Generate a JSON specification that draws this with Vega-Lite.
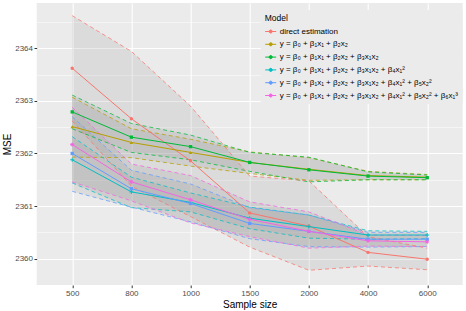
{
  "$schema": "https://vega.github.io/schema/vega-lite/v6.json",
  "autosize": {"type": "none"},
  "width": 426,
  "height": 282,
  "padding": {"left": 36.7, "top": 3, "right": 3.3, "bottom": 26},
  "config": {
    "font": "Liberation Sans",
    "view": {"fill": "#EBEBEB", "stroke": null}
  },
  "data": {
    "values": [
      {"model": "direct estimation", "n": 500, "mean": 2363.62, "lower": 2362.62, "upper": 2364.62},
      {"model": "direct estimation", "n": 800, "mean": 2362.66, "lower": 2361.38, "upper": 2363.94},
      {"model": "direct estimation", "n": 1000, "mean": 2361.86, "lower": 2360.8, "upper": 2362.9},
      {"model": "direct estimation", "n": 1500, "mean": 2360.87, "lower": 2360.22, "upper": 2361.57},
      {"model": "direct estimation", "n": 2000, "mean": 2360.62, "lower": 2359.78, "upper": 2361.48},
      {"model": "direct estimation", "n": 4000, "mean": 2360.12, "lower": 2359.86, "upper": 2360.42},
      {"model": "direct estimation", "n": 6000, "mean": 2359.99, "lower": 2359.79, "upper": 2360.2},
      {"model": "y = β₀ + β₁x₁ + β₂x₂", "n": 500, "mean": 2362.51, "lower": 2361.93, "upper": 2363.07},
      {"model": "y = β₀ + β₁x₁ + β₂x₂", "n": 800, "mean": 2362.21, "lower": 2361.92, "upper": 2362.47},
      {"model": "y = β₀ + β₁x₁ + β₂x₂", "n": 1000, "mean": 2362.02, "lower": 2361.76, "upper": 2362.27},
      {"model": "y = β₀ + β₁x₁ + β₂x₂", "n": 1500, "mean": 2361.83, "lower": 2361.62, "upper": 2362.03},
      {"model": "y = β₀ + β₁x₁ + β₂x₂", "n": 2000, "mean": 2361.7, "lower": 2361.49, "upper": 2361.92},
      {"model": "y = β₀ + β₁x₁ + β₂x₂", "n": 4000, "mean": 2361.58, "lower": 2361.5, "upper": 2361.66},
      {"model": "y = β₀ + β₁x₁ + β₂x₂", "n": 6000, "mean": 2361.55, "lower": 2361.5, "upper": 2361.6},
      {"model": "y = β₀ + β₁x₁ + β₂x₂ + β₃x₁x₂", "n": 500, "mean": 2362.79, "lower": 2362.47, "upper": 2363.11},
      {"model": "y = β₀ + β₁x₁ + β₂x₂ + β₃x₁x₂", "n": 800, "mean": 2362.31, "lower": 2362.02, "upper": 2362.57},
      {"model": "y = β₀ + β₁x₁ + β₂x₂ + β₃x₁x₂", "n": 1000, "mean": 2362.13, "lower": 2361.88, "upper": 2362.35},
      {"model": "y = β₀ + β₁x₁ + β₂x₂ + β₃x₁x₂", "n": 1500, "mean": 2361.83, "lower": 2361.66, "upper": 2362.02},
      {"model": "y = β₀ + β₁x₁ + β₂x₂ + β₃x₁x₂", "n": 2000, "mean": 2361.69, "lower": 2361.46, "upper": 2361.93},
      {"model": "y = β₀ + β₁x₁ + β₂x₂ + β₃x₁x₂", "n": 4000, "mean": 2361.57, "lower": 2361.5, "upper": 2361.65},
      {"model": "y = β₀ + β₁x₁ + β₂x₂ + β₃x₁x₂", "n": 6000, "mean": 2361.54, "lower": 2361.5, "upper": 2361.59},
      {"model": "y = β₀ + β₁x₁ + β₂x₂ + β₃x₁x₂ + β₄x₁²", "n": 500, "mean": 2361.88, "lower": 2361.44, "upper": 2362.32},
      {"model": "y = β₀ + β₁x₁ + β₂x₂ + β₃x₁x₂ + β₄x₁²", "n": 800, "mean": 2361.27, "lower": 2360.97, "upper": 2361.55},
      {"model": "y = β₀ + β₁x₁ + β₂x₂ + β₃x₁x₂ + β₄x₁²", "n": 1000, "mean": 2361.07, "lower": 2360.89, "upper": 2361.25},
      {"model": "y = β₀ + β₁x₁ + β₂x₂ + β₃x₁x₂ + β₄x₁²", "n": 1500, "mean": 2360.77, "lower": 2360.57, "upper": 2360.98},
      {"model": "y = β₀ + β₁x₁ + β₂x₂ + β₃x₁x₂ + β₄x₁²", "n": 2000, "mean": 2360.61, "lower": 2360.39, "upper": 2360.83},
      {"model": "y = β₀ + β₁x₁ + β₂x₂ + β₃x₁x₂ + β₄x₁²", "n": 4000, "mean": 2360.45, "lower": 2360.37, "upper": 2360.53},
      {"model": "y = β₀ + β₁x₁ + β₂x₂ + β₃x₁x₂ + β₄x₁²", "n": 6000, "mean": 2360.45, "lower": 2360.38, "upper": 2360.52},
      {"model": "y = β₀ + β₁x₁ + β₂x₂ + β₃x₁x₂ + β₄x₁² + β₅x₂²", "n": 500, "mean": 2362.0, "lower": 2361.28, "upper": 2362.7},
      {"model": "y = β₀ + β₁x₁ + β₂x₂ + β₃x₁x₂ + β₄x₁² + β₅x₂²", "n": 800, "mean": 2361.33, "lower": 2360.98, "upper": 2361.68},
      {"model": "y = β₀ + β₁x₁ + β₂x₂ + β₃x₁x₂ + β₄x₁² + β₅x₂²", "n": 1000, "mean": 2361.05, "lower": 2360.7, "upper": 2361.42},
      {"model": "y = β₀ + β₁x₁ + β₂x₂ + β₃x₁x₂ + β₄x₁² + β₅x₂²", "n": 1500, "mean": 2360.67, "lower": 2360.38, "upper": 2360.97},
      {"model": "y = β₀ + β₁x₁ + β₂x₂ + β₃x₁x₂ + β₄x₁² + β₅x₂²", "n": 2000, "mean": 2360.52, "lower": 2360.23, "upper": 2360.83},
      {"model": "y = β₀ + β₁x₁ + β₂x₂ + β₃x₁x₂ + β₄x₁² + β₅x₂²", "n": 4000, "mean": 2360.37, "lower": 2360.22, "upper": 2360.5},
      {"model": "y = β₀ + β₁x₁ + β₂x₂ + β₃x₁x₂ + β₄x₁² + β₅x₂²", "n": 6000, "mean": 2360.37, "lower": 2360.23, "upper": 2360.5},
      {"model": "y = β₀ + β₁x₁ + β₂x₂ + β₃x₁x₂ + β₄x₁² + β₅x₂² + β₆x₁³", "n": 500, "mean": 2362.17, "lower": 2361.46, "upper": 2362.88},
      {"model": "y = β₀ + β₁x₁ + β₂x₂ + β₃x₁x₂ + β₄x₁² + β₅x₂² + β₆x₁³", "n": 800, "mean": 2361.46, "lower": 2361.1, "upper": 2361.8},
      {"model": "y = β₀ + β₁x₁ + β₂x₂ + β₃x₁x₂ + β₄x₁² + β₅x₂² + β₆x₁³", "n": 1000, "mean": 2361.12, "lower": 2360.68, "upper": 2361.58},
      {"model": "y = β₀ + β₁x₁ + β₂x₂ + β₃x₁x₂ + β₄x₁² + β₅x₂² + β₆x₁³", "n": 1500, "mean": 2360.75, "lower": 2360.42, "upper": 2361.08},
      {"model": "y = β₀ + β₁x₁ + β₂x₂ + β₃x₁x₂ + β₄x₁² + β₅x₂² + β₆x₁³", "n": 2000, "mean": 2360.52, "lower": 2360.2, "upper": 2360.89},
      {"model": "y = β₀ + β₁x₁ + β₂x₂ + β₃x₁x₂ + β₄x₁² + β₅x₂² + β₆x₁³", "n": 4000, "mean": 2360.34, "lower": 2360.24, "upper": 2360.45},
      {"model": "y = β₀ + β₁x₁ + β₂x₂ + β₃x₁x₂ + β₄x₁² + β₅x₂² + β₆x₁³", "n": 6000, "mean": 2360.32, "lower": 2360.23, "upper": 2360.44}
    ]
  },
  "encoding": {
    "x": {
      "field": "n", "type": "ordinal",
      "scale": {"type": "point", "padding": 0.6},
      "axis": {
        "title": "Sample size", "titleFontSize": 10, "titleFontWeight": "normal", "titleColor": "#000000", "titlePadding": 2,
        "labelAngle": 0, "labelFontSize": 8, "labelColor": "#4D4D4D", "labelPadding": 1.5,
        "tickSize": 2.7, "tickColor": "#333333", "domain": false,
        "grid": true, "gridColor": "#FFFFFF", "gridWidth": 1.07
      }
    }
  },
  "layer": [
    {
      "mark": {"type": "area", "color": "#999999", "opacity": 0.2},
      "encoding": {
        "y": {
          "field": "lower", "type": "quantitative",
          "scale": {"domain": [2359.5, 2364.86], "nice": false, "zero": false},
          "axis": {
            "orient": "right", "title": null, "values": [2359.5, 2360.5, 2361.5, 2362.5, 2363.5, 2364.5],
            "labels": false, "ticks": false, "domain": false,
            "grid": true, "gridColor": "#FFFFFF", "gridWidth": 0.53
          }
        },
        "y2": {"field": "upper"},
        "detail": {"field": "model"}
      }
    },
    {
      "encoding": {
        "color": {
          "field": "model", "type": "nominal",
          "scale": {
            "domain": ["direct estimation", "y = β₀ + β₁x₁ + β₂x₂", "y = β₀ + β₁x₁ + β₂x₂ + β₃x₁x₂", "y = β₀ + β₁x₁ + β₂x₂ + β₃x₁x₂ + β₄x₁²", "y = β₀ + β₁x₁ + β₂x₂ + β₃x₁x₂ + β₄x₁² + β₅x₂²", "y = β₀ + β₁x₁ + β₂x₂ + β₃x₁x₂ + β₄x₁² + β₅x₂² + β₆x₁³"],
            "range": ["#F8766D", "#B79F00", "#00BA38", "#00BFC4", "#619CFF", "#F564E3"]
          },
          "legend": {
            "orient": "none", "legendX": 224, "legendY": 7,
            "title": "Model", "titleFontSize": 8.5, "titleFontWeight": "normal", "titleColor": "#000000", "titlePadding": 3,
            "labelFontSize": 8, "labelColor": "#000000", "labelLimit": 400, "labelOffset": 3,
            "symbolType": "M-1,0H1M0.28,0A0.28,0.28,0,1,1,-0.28,0A0.28,0.28,0,1,1,0.28,0",
            "symbolSize": 121, "symbolStrokeWidth": 1, "rowPadding": 2.8,
            "fillColor": "#EBEBEB", "padding": 4,
            "encode": {"symbols": {"update": {
              "shape": {"value": "M-1,0H1M0.28,0A0.28,0.28,0,1,1,-0.28,0A0.28,0.28,0,1,1,0.28,0"},
              "size": {"value": 121},
              "strokeWidth": {"value": 1},
              "opacity": {"value": 1},
              "fill": {"scale": "color", "field": "value"},
              "stroke": {"scale": "color", "field": "value"}
            }}}
          }
        }
      },
      "layer": [
        {
          "mark": {"type": "line", "strokeDash": [4, 3], "strokeWidth": 1, "opacity": 0.75},
          "encoding": {
            "y": {"field": "lower", "type": "quantitative",
              "axis": {"values": [2360, 2361, 2362, 2363, 2364], "format": "d", "title": "MSE", "titleFontSize": 10, "titleFontWeight": "normal", "titleColor": "#000000", "titlePadding": 2.5,
                "labelFontSize": 8, "labelColor": "#4D4D4D", "labelPadding": 1.5, "tickSize": 2.7, "tickColor": "#333333", "domain": false,
                "grid": true, "gridColor": "#FFFFFF", "gridWidth": 1.07}}
          }
        },
        {
          "mark": {"type": "line", "strokeDash": [4, 3], "strokeWidth": 1, "opacity": 0.75},
          "encoding": {"y": {"field": "upper", "type": "quantitative"}}
        },
        {
          "mark": {"type": "line", "strokeWidth": 1},
          "encoding": {"y": {"field": "mean", "type": "quantitative"}}
        },
        {
          "transform": [{"filter": {"field": "model", "equal": "direct estimation"}}],
          "mark": {"type": "point", "filled": true, "size": 12, "shape": "circle", "opacity": 1},
          "encoding": {"y": {"field": "mean", "type": "quantitative"}}
        },
        {
          "transform": [{"filter": {"field": "model", "equal": "y = β₀ + β₁x₁ + β₂x₂"}}],
          "mark": {"type": "point", "filled": true, "size": 12, "shape": "triangle-up", "opacity": 1},
          "encoding": {"y": {"field": "mean", "type": "quantitative"}}
        },
        {
          "transform": [{"filter": {"field": "model", "equal": "y = β₀ + β₁x₁ + β₂x₂ + β₃x₁x₂"}}],
          "mark": {"type": "point", "filled": true, "size": 11, "shape": "square", "opacity": 1},
          "encoding": {"y": {"field": "mean", "type": "quantitative"}}
        },
        {
          "transform": [{"filter": {"field": "model", "equal": "y = β₀ + β₁x₁ + β₂x₂ + β₃x₁x₂ + β₄x₁²"}}],
          "mark": {"type": "point", "filled": false, "size": 16, "strokeWidth": 1, "shape": "M-1,0H1M0,-1V1", "opacity": 1},
          "encoding": {"y": {"field": "mean", "type": "quantitative"}}
        },
        {
          "transform": [{"filter": {"field": "model", "equal": "y = β₀ + β₁x₁ + β₂x₂ + β₃x₁x₂ + β₄x₁² + β₅x₂²"}}],
          "mark": {"type": "point", "filled": true, "size": 11, "shape": "square", "opacity": 1},
          "encoding": {"y": {"field": "mean", "type": "quantitative"}}
        },
        {
          "transform": [{"filter": {"field": "model", "equal": "y = β₀ + β₁x₁ + β₂x₂ + β₃x₁x₂ + β₄x₁² + β₅x₂² + β₆x₁³"}}],
          "mark": {"type": "point", "filled": false, "size": 16, "strokeWidth": 1, "shape": "M-1,0H1M0,-1V1M-0.7,-0.7L0.7,0.7M-0.7,0.7L0.7,-0.7", "opacity": 1},
          "encoding": {"y": {"field": "mean", "type": "quantitative"}}
        }
      ]
    }
  ],
  "resolve": {"axis": {"y": "independent"}}
}
